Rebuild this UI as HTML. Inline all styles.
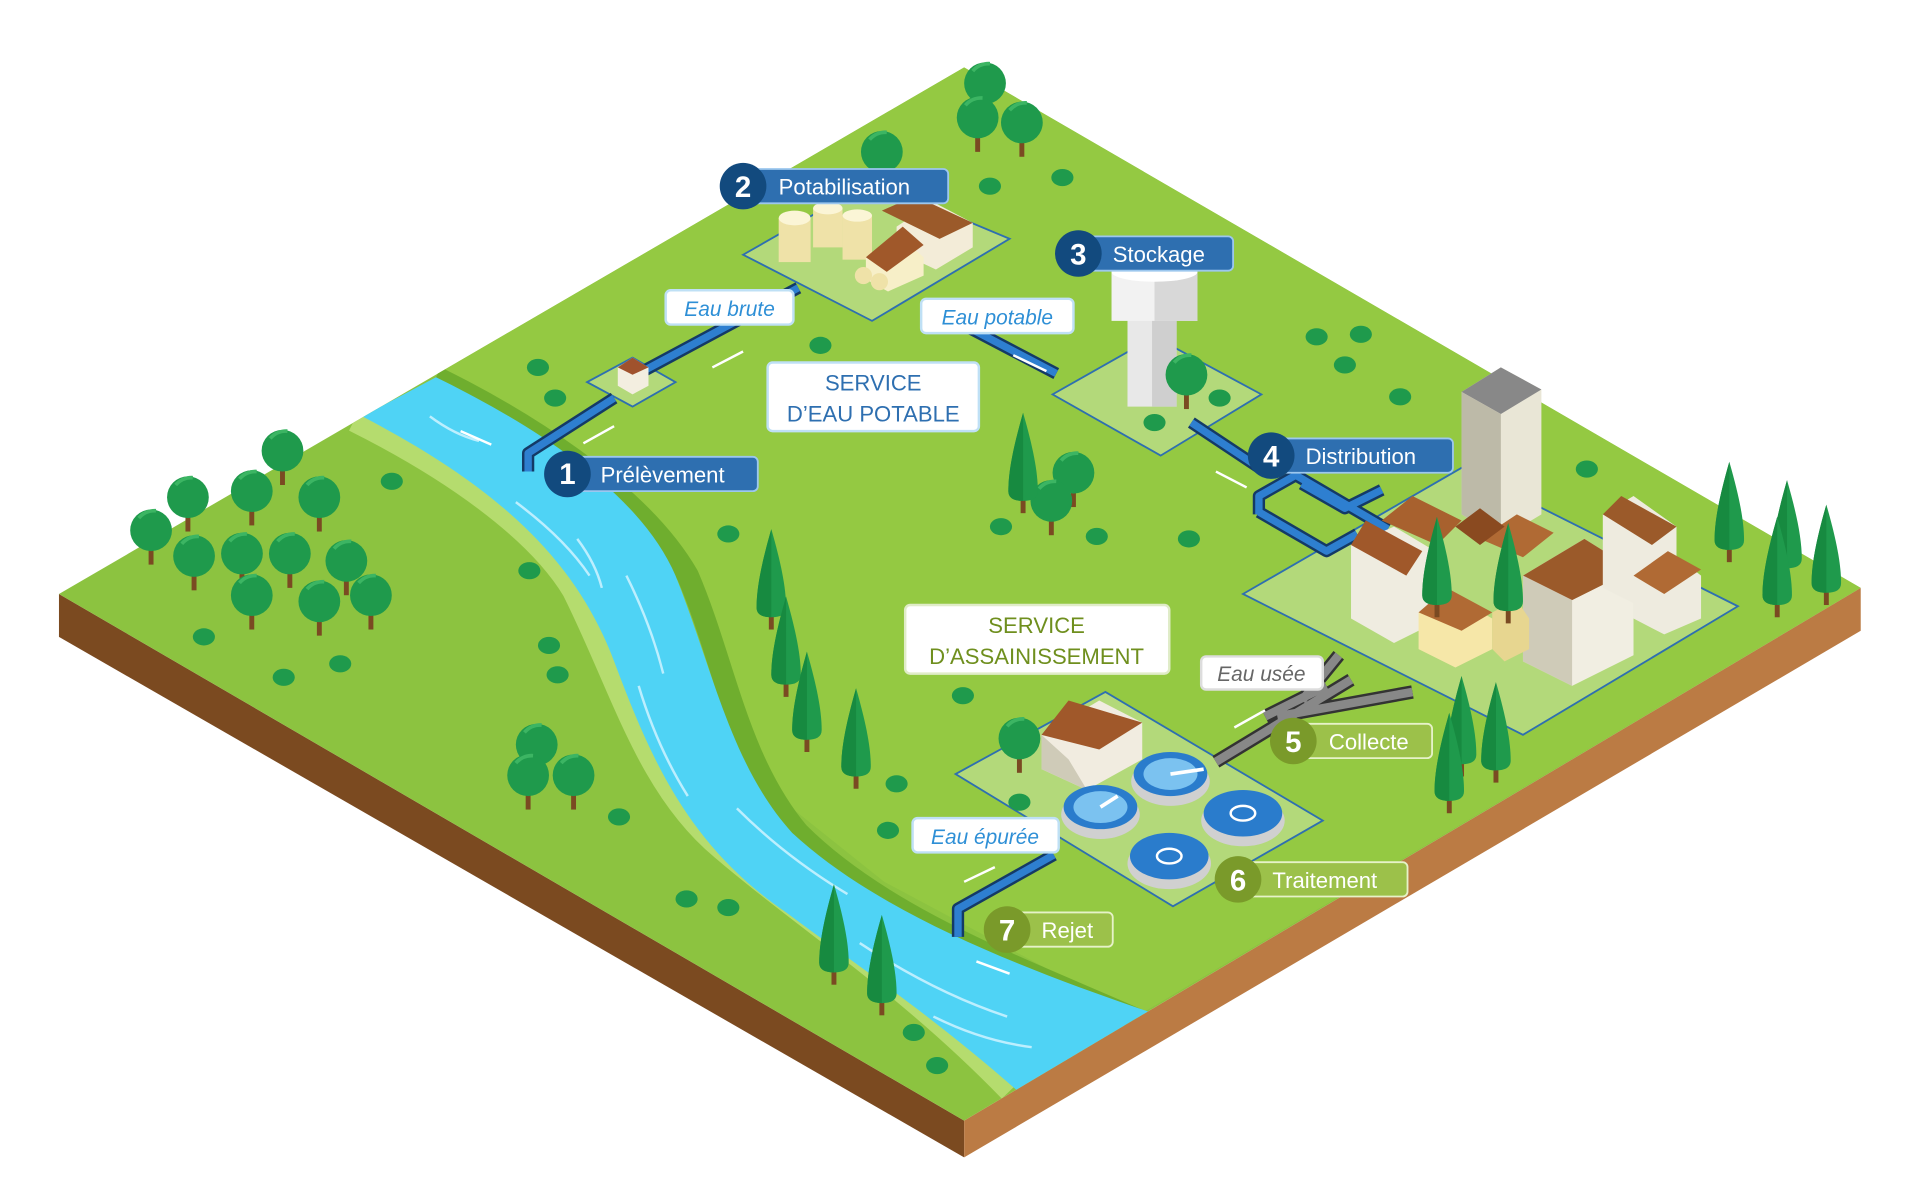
<!DOCTYPE html>
<html><head><meta charset="utf-8"><style>
html,body{margin:0;padding:0;background:#fff;}
svg{display:block;}
text{font-family:"Liberation Sans",sans-serif;}
</style></head><body>
<svg width="1916" height="1188" viewBox="0 0 1560 970" preserveAspectRatio="none" xmlns="http://www.w3.org/2000/svg">
<defs>
<clipPath id="gc"><polygon points="48,485 785,55 1515,480 785,915"/></clipPath>
<g id="rt"><rect x="-2" y="0" width="4" height="24" fill="#7a4a22"/><circle cx="0" cy="-4" r="17" fill="#1f9a4c"/><path d="M-10,-14 a17,17 0 0 1 14,-6" stroke="#3cb563" stroke-width="3" fill="none"/></g>
<g id="ct"><rect x="-2" y="0" width="4" height="14" fill="#7a4a22"/><path d="M0,-68 C8,-40 12,-20 12,-4 Q12,4 0,4 Q-12,4 -12,-4 C-12,-20 -8,-40 0,-68Z" fill="#1f9a4c"/><path d="M0,-68 C-8,-40 -12,-20 -12,-4 Q-12,4 0,4Z" fill="#178a40"/></g>
<g id="bu"><ellipse cx="0" cy="0" rx="9" ry="7" fill="#1f9a4c"/></g>
</defs>
<!-- ground sides -->
<polygon points="48,485 785,915 785,945 48,520" fill="#7b4a20"/>
<polygon points="785,915 1515,480 1515,515 785,945" fill="#bb7b44"/>
<!-- ground top -->
<polygon points="48,485 785,55 1515,480 785,915" fill="#8cc340"/>
<g clip-path="url(#gc)">
<polygon points="360,300 785,55 1515,480 925,830 860,795 720,720 620,640 580,540 540,440 440,360" fill="#94c942"/>
<path d="M290,340 C370,380 440,430 470,480 C510,560 530,640 590,690 C660,750 740,800 825,888" stroke="#b5dc6e" stroke-width="26" fill="none"/>
<path d="M355,308 C420,340 520,400 560,470 C590,540 600,620 650,680 C720,750 830,790 925,832" stroke="#6fae2e" stroke-width="18" fill="none"/>
<path d="M295,340 L355,308 C430,345 520,400 550,470 C580,545 595,625 645,680 C715,745 830,790 935,826 L830,892 C760,830 700,790 640,745 C560,690 530,620 500,540 C470,460 410,400 295,340Z" fill="#4fd3f5"/>
<g stroke="#c8f2ff" stroke-width="2" fill="none" opacity="0.9">
<path d="M350,340 q20,15 40,20"/><path d="M420,410 q40,30 60,60"/><path d="M510,470 q20,40 30,80"/><path d="M520,560 q15,50 40,90"/><path d="M600,660 q40,40 90,70"/><path d="M700,770 q60,40 120,60"/><path d="M760,830 q40,20 80,25"/><path d="M470,440 q15,20 20,40"/>
</g>
</g>
<!-- plots -->
<polygon points="605,208 710,148 822,195 710,262" fill="#b3d97a" stroke="#2e6fb0" stroke-width="1.5"/>
<polygon points="857,322 940,275 1027,322 945,372" fill="#b3d97a" stroke="#2e6fb0" stroke-width="1.5"/>
<polygon points="478,312 515,292 550,312 515,332" fill="#b3d97a" stroke="#2e6fb0" stroke-width="1.5"/>
<polygon points="1012,485 1190,382 1415,495 1240,600" fill="#b3d97a" stroke="#2e6fb0" stroke-width="1.5"/>
<polygon points="778,632 900,565 1077,670 955,740" fill="#b3d97a" stroke="#2e6fb0" stroke-width="1.5"/>
<!-- pipes blue -->
<g fill="none" stroke="#143a66" stroke-width="10" stroke-linejoin="round">
<path d="M430,385 L430,370 L500,325 M520,305 L650,235 M765,255 L860,305 M970,345 L1030,385 M1025,420 L1025,405 L1055,388 L1130,432 M1025,418 L1080,450 L1105,436 M1060,395 L1095,415 L1125,400"/>
<path d="M780,765 L780,742 L858,698"/>
</g>
<g fill="none" stroke="#2e7fd0" stroke-width="6" stroke-linejoin="round">
<path d="M430,385 L430,370 L500,325 M520,305 L650,235 M765,255 L860,305 M970,345 L1030,385 M1025,420 L1025,405 L1055,388 L1130,432 M1025,418 L1080,450 L1105,436 M1060,395 L1095,415 L1125,400"/>
<path d="M780,765 L780,742 L858,698"/>
</g>
<!-- grey sewer pipes -->
<g fill="none" stroke="#333" stroke-width="11"><path d="M990,622 L1100,555 M1040,585 L1150,565 M1060,572 L1090,535 M1030,585 L1080,560"/></g>
<g fill="none" stroke="#888" stroke-width="7"><path d="M990,622 L1100,555 M1040,585 L1150,565 M1060,572 L1090,535 M1030,585 L1080,560"/></g>
<!-- arrows -->
<g stroke="#fff" stroke-width="2" fill="#fff">
<path d="M375,352 L400,363"/><path d="M475,362 L500,348"/><path d="M580,300 L605,287"/><path d="M825,290 L852,303"/><path d="M990,385 L1015,398"/><path d="M1030,580 L1005,594"/><path d="M810,708 L785,720"/><path d="M795,785 L822,795"/>
</g>
<!-- intake hut -->
<polygon points="503,300 515,292 528,300 528,315 515,322 503,315" fill="#f3eee0"/><polygon points="503,300 515,292 528,300 515,306" fill="#a0522d"/>
<!-- potabilisation -->
<rect x="634" y="178" width="26" height="36" fill="#efe2a8"/><ellipse cx="647" cy="178" rx="13" ry="6" fill="#fbf5d6"/>
<rect x="662" y="170" width="24" height="32" fill="#efe2a8"/><ellipse cx="674" cy="170" rx="12" ry="5" fill="#fbf5d6"/>
<rect x="686" y="176" width="24" height="36" fill="#efe2a8"/><ellipse cx="698" cy="176" rx="12" ry="5" fill="#fbf5d6"/>
<polygon points="730,185 760,165 792,182 792,202 762,220 730,205" fill="#f3ecd8"/><polygon points="718,172 745,160 792,182 765,195" fill="#9b5a2a"/>
<polygon points="705,210 735,195 752,210 752,225 723,238 705,228" fill="#f7efc8"/><polygon points="705,210 735,185 752,200 722,222" fill="#a0582a"/>
<circle cx="703" cy="225" r="7" fill="#efe2a8"/><circle cx="716" cy="230" r="7" fill="#efe2a8"/>
<!-- water tower -->
<rect x="918" y="240" width="40" height="92" fill="#e8e8e8"/><rect x="938" y="240" width="20" height="92" fill="#cfcfcf"/>
<rect x="905" y="222" width="70" height="40" fill="#f2f2f2"/><rect x="940" y="222" width="35" height="40" fill="#d8d8d8"/>
<ellipse cx="940" cy="222" rx="35" ry="8" fill="#fff"/>
<!-- city -->
<polygon points="1190,320 1222,300 1255,318 1255,420 1222,440 1190,420" fill="#e9e6d6"/><polygon points="1190,320 1222,300 1255,318 1222,338" fill="#888"/><polygon points="1190,320 1222,338 1222,440 1190,420" fill="#bdbaa8"/>
<polygon points="1100,445 1135,430 1165,448 1165,510 1135,525 1100,505" fill="#efece0"/><polygon points="1100,445 1112,425 1158,450 1145,470" fill="#a0582a"/>
<polygon points="1125,425 1150,405 1190,425 1170,445" fill="#a8612e"/>
<polygon points="1155,500 1180,485 1215,505 1215,530 1185,545 1155,530" fill="#f6e7a8"/><polygon points="1155,500 1178,480 1215,500 1190,515" fill="#b06a34"/>
<polygon points="1240,470 1290,440 1330,465 1330,535 1280,560 1240,540" fill="#f1eee2"/><polygon points="1240,470 1290,440 1330,465 1280,490" fill="#9b5a2a"/><polygon points="1240,470 1280,490 1280,560 1240,540" fill="#cfcbb8"/>
<polygon points="1305,420 1330,405 1365,430 1365,480 1335,495 1305,480" fill="#eeebdf"/><polygon points="1305,420 1320,405 1365,430 1345,445" fill="#9b5a2a"/>
<polygon points="1330,470 1360,450 1385,470 1385,505 1355,518 1330,505" fill="#eeebdf"/><polygon points="1330,470 1358,450 1385,465 1355,485" fill="#b06a34"/>
<polygon points="1205,440 1235,420 1265,435 1240,455" fill="#b06a34"/><polygon points="1185,430 1205,415 1225,430 1205,445" fill="#8a4a20"/>
<polygon points="1215,500 1235,490 1245,505 1245,530 1225,540 1215,530" fill="#e7d690"/>
<!-- treatment plant -->
<polygon points="848,600 895,572 930,590 930,620 885,645 848,628" fill="#f1ece0"/><polygon points="848,600 870,572 930,590 895,612" fill="#a0582a"/><polygon points="848,600 870,620 885,645 848,628" fill="#cfcbb8"/>
<g>
<ellipse cx="953" cy="638" rx="32" ry="20" fill="#d0d0d0"/><ellipse cx="953" cy="632" rx="30" ry="18" fill="#2a7ccc"/><ellipse cx="953" cy="632" rx="22" ry="13" fill="#7bc2f0"/><path d="M953,632 L980,628" stroke="#fff" stroke-width="3"/>
<ellipse cx="896" cy="665" rx="32" ry="20" fill="#d0d0d0"/><ellipse cx="896" cy="659" rx="30" ry="18" fill="#2a7ccc"/><ellipse cx="896" cy="659" rx="22" ry="13" fill="#7bc2f0"/><path d="M896,659 L910,650" stroke="#fff" stroke-width="3"/>
<ellipse cx="1012" cy="670" rx="34" ry="21" fill="#d0d0d0"/><ellipse cx="1012" cy="664" rx="32" ry="19" fill="#2a7ccc"/><ellipse cx="1012" cy="664" rx="10" ry="6" fill="none" stroke="#fff" stroke-width="2"/>
<ellipse cx="952" cy="705" rx="34" ry="21" fill="#d0d0d0"/><ellipse cx="952" cy="699" rx="32" ry="19" fill="#2a7ccc"/><ellipse cx="952" cy="699" rx="10" ry="6" fill="none" stroke="#fff" stroke-width="2"/>
</g>
<!-- round trees -->
<g>
<use href="#rt" x="802" y="72"/><use href="#rt" x="796" y="100"/><use href="#rt" x="832" y="104"/><use href="#rt" x="718" y="128"/>
<use href="#rt" x="966" y="310"/><use href="#rt" x="874" y="390"/><use href="#rt" x="856" y="413"/>
<use href="#rt" x="230" y="372"/><use href="#rt" x="153" y="410"/><use href="#rt" x="205" y="405"/><use href="#rt" x="260" y="410"/>
<use href="#rt" x="123" y="437"/><use href="#rt" x="158" y="458"/><use href="#rt" x="197" y="456"/><use href="#rt" x="236" y="456"/><use href="#rt" x="282" y="462"/>
<use href="#rt" x="205" y="490"/><use href="#rt" x="260" y="495"/><use href="#rt" x="302" y="490"/>
<use href="#rt" x="437" y="612"/><use href="#rt" x="430" y="637"/><use href="#rt" x="467" y="637"/><use href="#rt" x="830" y="607"/>
</g>
<!-- conifers -->
<g>
<use href="#ct" x="628" y="500"/><use href="#ct" x="640" y="555"/><use href="#ct" x="657" y="600"/><use href="#ct" x="697" y="630"/>
<use href="#ct" x="833" y="405"/><use href="#ct" x="679" y="790"/><use href="#ct" x="718" y="815"/>
<use href="#ct" x="1170" y="490"/><use href="#ct" x="1228" y="495"/><use href="#ct" x="1190" y="620"/><use href="#ct" x="1218" y="625"/><use href="#ct" x="1180" y="650"/>
<use href="#ct" x="1408" y="445"/><use href="#ct" x="1455" y="460"/><use href="#ct" x="1487" y="480"/><use href="#ct" x="1447" y="490"/>
</g>
<!-- bushes -->
<g>
<use href="#bu" x="865" y="145"/><use href="#bu" x="806" y="152"/><use href="#bu" x="438" y="300"/><use href="#bu" x="452" y="325"/><use href="#bu" x="668" y="282"/>
<use href="#bu" x="1072" y="275"/><use href="#bu" x="1108" y="273"/><use href="#bu" x="1095" y="298"/><use href="#bu" x="1140" y="324"/><use href="#bu" x="1292" y="383"/>
<use href="#bu" x="940" y="345"/><use href="#bu" x="993" y="325"/><use href="#bu" x="815" y="430"/><use href="#bu" x="893" y="438"/><use href="#bu" x="968" y="440"/>
<use href="#bu" x="319" y="393"/><use href="#bu" x="593" y="436"/><use href="#bu" x="431" y="466"/><use href="#bu" x="166" y="520"/><use href="#bu" x="277" y="542"/><use href="#bu" x="231" y="553"/>
<use href="#bu" x="447" y="527"/><use href="#bu" x="454" y="551"/><use href="#bu" x="784" y="568"/><use href="#bu" x="730" y="640"/><use href="#bu" x="830" y="655"/><use href="#bu" x="723" y="678"/>
<use href="#bu" x="504" y="667"/><use href="#bu" x="559" y="734"/><use href="#bu" x="593" y="741"/><use href="#bu" x="744" y="843"/><use href="#bu" x="763" y="870"/>
</g>
<!-- labels -->
<g font-size="18" font-weight="bold" fill="#fff">
<rect x="470" y="373" width="147" height="28" rx="4" fill="#2e6fb0" stroke="#9cc7ee" stroke-width="1.5"/><circle cx="462" cy="387" r="19" fill="#124a7e"/><text x="462" y="395" text-anchor="middle" font-size="24">1</text><text x="489" y="394" font-weight="normal">Prélèvement</text>
<rect x="610" y="138" width="162" height="28" rx="4" fill="#2e6fb0" stroke="#9cc7ee" stroke-width="1.5"/><circle cx="605" cy="152" r="19" fill="#124a7e"/><text x="605" y="161" text-anchor="middle" font-size="24">2</text><text x="634" y="159" font-weight="normal">Potabilisation</text>
<rect x="885" y="193" width="119" height="28" rx="4" fill="#2e6fb0" stroke="#9cc7ee" stroke-width="1.5"/><circle cx="878" cy="207" r="19" fill="#124a7e"/><text x="878" y="216" text-anchor="middle" font-size="24">3</text><text x="906" y="214" font-weight="normal">Stockage</text>
<rect x="1040" y="358" width="143" height="28" rx="4" fill="#2e6fb0" stroke="#9cc7ee" stroke-width="1.5"/><circle cx="1035" cy="372" r="19" fill="#124a7e"/><text x="1035" y="381" text-anchor="middle" font-size="24">4</text><text x="1063" y="379" font-weight="normal">Distribution</text>
<rect x="1060" y="591" width="106" height="28" rx="4" fill="#9cc14a" stroke="#e6f2c8" stroke-width="1.5"/><circle cx="1053" cy="605" r="19" fill="#7a9a2a"/><text x="1053" y="614" text-anchor="middle" font-size="24">5</text><text x="1082" y="612" font-weight="normal">Collecte</text>
<rect x="1015" y="704" width="131" height="28" rx="4" fill="#9cc14a" stroke="#e6f2c8" stroke-width="1.5"/><circle cx="1008" cy="718" r="19" fill="#7a9a2a"/><text x="1008" y="727" text-anchor="middle" font-size="24">6</text><text x="1036" y="725" font-weight="normal">Traitement</text>
<rect x="825" y="745" width="81" height="28" rx="4" fill="#9cc14a" stroke="#e6f2c8" stroke-width="1.5"/><circle cx="820" cy="759" r="19" fill="#7a9a2a"/><text x="820" y="768" text-anchor="middle" font-size="24">7</text><text x="848" y="766" font-weight="normal">Rejet</text>
</g>
<g font-size="17" font-style="italic">
<rect x="542" y="237" width="104" height="28" rx="4" fill="#fff" stroke="#bfe0f5" stroke-width="2"/><text x="594" y="258" text-anchor="middle" fill="#2e8fd6">Eau brute</text>
<rect x="750" y="244" width="124" height="28" rx="4" fill="#fff" stroke="#bfe0f5" stroke-width="2"/><text x="812" y="265" text-anchor="middle" fill="#2e8fd6">Eau potable</text>
<rect x="978" y="536" width="99" height="27" rx="4" fill="#fff" stroke="#ddd" stroke-width="2"/><text x="1027" y="556" text-anchor="middle" fill="#666">Eau usée</text>
<rect x="743" y="668" width="119" height="28" rx="4" fill="#fff" stroke="#bfe0f5" stroke-width="2"/><text x="802" y="689" text-anchor="middle" fill="#2e8fd6">Eau épurée</text>
</g>
<g font-size="18">
<rect x="625" y="296" width="172" height="56" rx="4" fill="#fff" stroke="#bfe0f5" stroke-width="2"/><text x="711" y="319" text-anchor="middle" fill="#2e6fb0">SERVICE</text><text x="711" y="344" text-anchor="middle" fill="#2e6fb0">D’EAU POTABLE</text>
<rect x="737" y="494" width="215" height="56" rx="4" fill="#fff" stroke="#e0ecc8" stroke-width="2"/><text x="844" y="517" text-anchor="middle" fill="#6f8f1e">SERVICE</text><text x="844" y="542" text-anchor="middle" fill="#6f8f1e">D’ASSAINISSEMENT</text>
</g>
</svg>
</body></html>
